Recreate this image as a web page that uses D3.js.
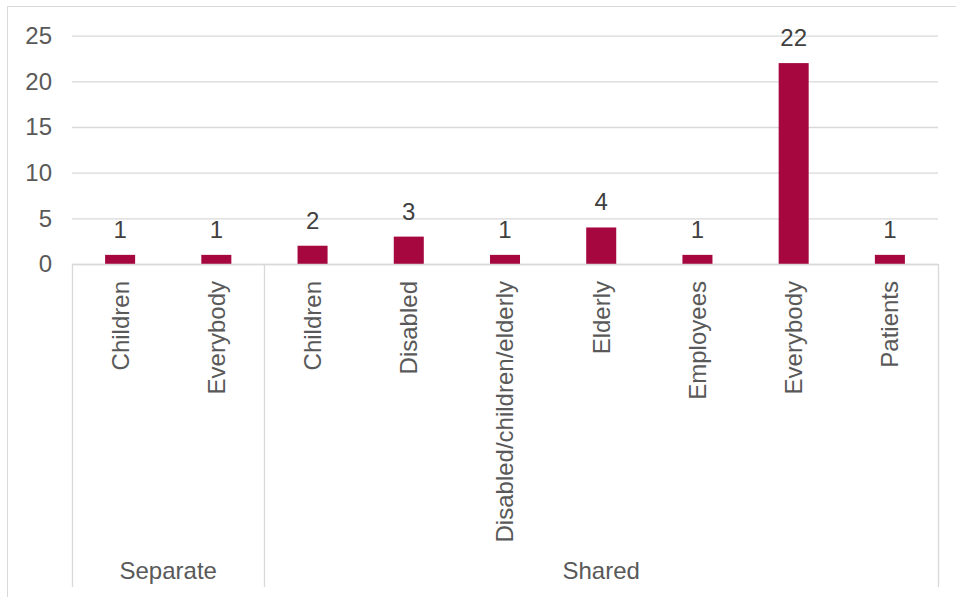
<!DOCTYPE html>
<html>
<head>
<meta charset="utf-8">
<script src="https://cdn.jsdelivr.net/npm/d3@7"></script>
<style>
  html, body { margin: 0; padding: 0; background: #fff; }
  svg { display: block; font-family: "Liberation Sans", Arial, sans-serif; }
</style>
</head>
<body>
<svg id="chart" width="956" height="597"></svg>
<script>
// Counts per target group, split by facility type
const groups = ["Separate", "Shared"];
const categories = ["Children", "Everybody", "Children", "Disabled", "Disabled/children/elderly",
                    "Elderly", "Employees", "Everybody", "Patients"];
const categoryGroup = ["Separate", "Separate", "Shared", "Shared", "Shared",
                       "Shared", "Shared", "Shared", "Shared"];
const values = [1, 1, 2, 3, 1, 4, 1, 22, 1];
const yTicks = [0, 5, 10, 15, 20, 25];

const svg = d3.select("#chart");
const W = 956, H = 597;

const plot = { left: 72, right: 938, top: 35.7, bottom: 264 };
const axisBottom = 587;
const barColor = "#a5073e";
const gridColor = "#d9d9d9";
const tickTextColor = "#595959";
const labelColor = "#404040";

// chart frame
svg.append("rect")
  .attr("x", 7.5).attr("y", 6.5)
  .attr("width", 1000).attr("height", 1000)
  .attr("fill", "none").attr("stroke", gridColor).attr("stroke-width", 1);

const x = d3.scaleBand()
  .domain(d3.range(categories.length))
  .range([plot.left, plot.right])
  .paddingInner(0.688)
  .paddingOuter(0.344);

const y = d3.scaleLinear()
  .domain([0, 25])
  .range([plot.bottom, plot.top]);

// value axis with gridlines
const yAxis = svg.append("g")
  .attr("transform", `translate(${plot.left},0)`)
  .call(d3.axisLeft(y)
    .tickValues(yTicks)
    .tickSize(-(plot.right - plot.left))
    .tickPadding(20)
    .tickFormat(d3.format("d")));
yAxis.select(".domain").remove();
yAxis.selectAll(".tick line")
  .attr("stroke", gridColor).attr("stroke-width", 1.3);
yAxis.selectAll(".tick text")
  .attr("fill", tickTextColor)
  .attr("font-size", 24)
  .attr("font-family", "'Liberation Sans', Arial, sans-serif");

// bars
svg.append("g").selectAll("rect")
  .data(values)
  .join("rect")
  .attr("x", (d, i) => x(i))
  .attr("width", x.bandwidth())
  .attr("y", d => y(d))
  .attr("height", d => y(0) - y(d))
  .attr("fill", barColor);

// value labels
svg.append("g").selectAll("text")
  .data(values)
  .join("text")
  .attr("x", (d, i) => x(i) + x.bandwidth() / 2)
  .attr("y", d => y(d) - 17)
  .attr("text-anchor", "middle")
  .attr("font-size", 24)
  .attr("fill", labelColor)
  .text(d => d);

// category axis: baseline and group separators
const step = x.step();
const boundaries = [];
categoryGroup.forEach((g, i) => {
  if (i === 0 || categoryGroup[i - 1] !== g) boundaries.push(i);
});
boundaries.push(categories.length);

const catAxis = svg.append("g");
catAxis.append("line")
  .attr("x1", plot.left).attr("x2", plot.right)
  .attr("y1", plot.bottom + 0.5).attr("y2", plot.bottom + 0.5)
  .attr("stroke", gridColor).attr("stroke-width", 1.3);

boundaries.forEach(b => {
  const bx = Math.round(plot.left + b * step) + 0.5;
  catAxis.append("line")
    .attr("x1", bx).attr("x2", bx)
    .attr("y1", plot.bottom).attr("y2", axisBottom)
    .attr("stroke", gridColor).attr("stroke-width", 1.3);
});

// inner category labels, rotated
catAxis.selectAll("text.cat")
  .data(categories)
  .join("text")
  .attr("class", "cat")
  .attr("transform", (d, i) => `translate(${x(i) + x.bandwidth() / 2},281) rotate(-90)`)
  .attr("text-anchor", "end")
  .attr("dy", "0.35em")
  .attr("font-size", 24)
  .attr("fill", tickTextColor)
  .text(d => d);

// group labels
groups.forEach(g => {
  const first = categoryGroup.indexOf(g);
  const last = categoryGroup.lastIndexOf(g);
  const cx = plot.left + ((first + last + 1) / 2) * step;
  catAxis.append("text")
    .attr("x", cx).attr("y", 579)
    .attr("text-anchor", "middle")
    .attr("font-size", 24)
    .attr("fill", tickTextColor)
    .text(g);
});
</script>
</body>
</html>
